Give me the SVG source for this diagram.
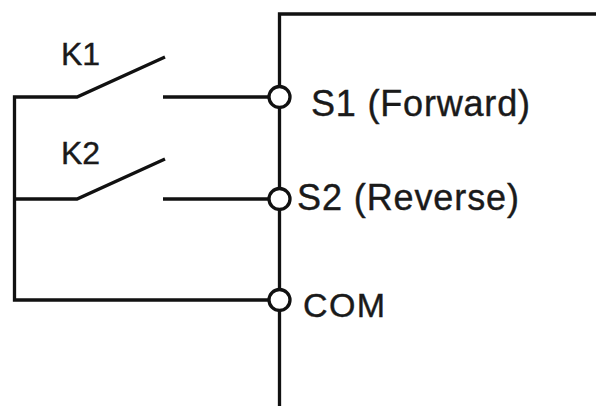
<svg xmlns="http://www.w3.org/2000/svg" width="596" height="406" viewBox="0 0 596 406">
  <style>
    .w { fill: none; stroke: #111; stroke-width: 3.3; stroke-linecap: butt; stroke-linejoin: miter; }
    .term { fill: #fff; stroke: #111; stroke-width: 3.3; }
    .lbl { font-family: "Liberation Sans", Arial, sans-serif; fill: #1a1a1a; stroke: #1a1a1a; stroke-width: 0.4; }
  </style>
  <rect x="0" y="0" width="596" height="406" fill="#ffffff"/>
  <g id="drive">
    <path class="w" d="M596,14 H279.5 V406"/>
  </g>
  <g id="connectors">
    <path class="w" d="M268,97 H163"/>
    <path class="w" d="M268,199 H163"/>
    <path class="w" d="M269,300 H14.5 V97 H77 L165,57"/>
    <path class="w" d="M14.5,199 H77 L165,159"/>
  </g>
  <g id="K1">
    <text class="lbl" x="61" y="65" font-size="32">K1</text>
  </g>
  <g id="K2">
    <text class="lbl" x="61" y="164" font-size="32">K2</text>
  </g>
  <g id="S1">
    <circle class="term" cx="279.5" cy="97" r="10.5"/>
    <text class="lbl" x="311" y="116" font-size="36" textLength="219" lengthAdjust="spacing">S1 (Forward)</text>
  </g>
  <g id="S2">
    <circle class="term" cx="279.5" cy="199" r="10.5"/>
    <text class="lbl" x="297" y="210" font-size="36" textLength="222" lengthAdjust="spacing">S2 (Reverse)</text>
  </g>
  <g id="COM">
    <circle class="term" cx="279.5" cy="300" r="10.5"/>
    <text class="lbl" x="303" y="317" font-size="34" textLength="82" lengthAdjust="spacing">COM</text>
  </g>
</svg>
